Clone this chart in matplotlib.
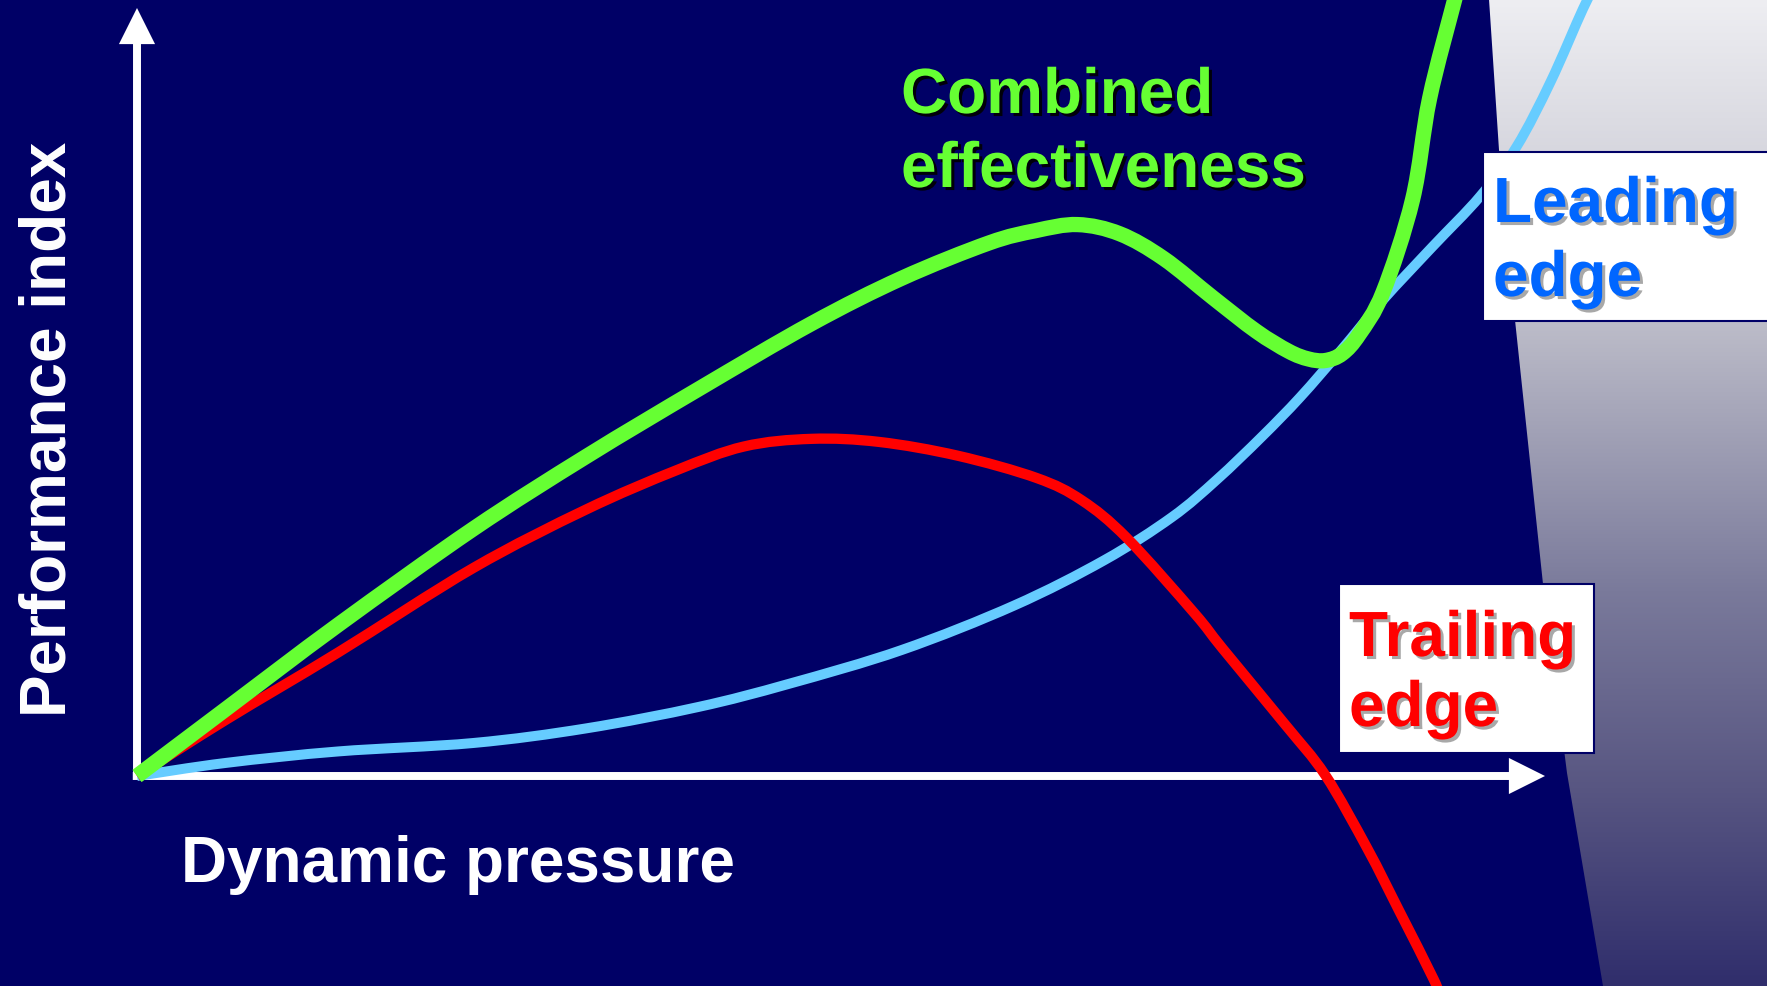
import numpy as np
import matplotlib
matplotlib.use('Agg')
import matplotlib.pyplot as plt
import matplotlib.patheffects as pe
from matplotlib.path import Path
from matplotlib.patches import Polygon, Rectangle, FancyArrowPatch, PathPatch

W, H = 1767, 987
NAVY = '#000066'

# performance curves vs dynamic pressure (axis arrows end at 100 on both axes)
combined_x = [0, 6.3, 14.3, 23.9, 31.9, 39.9, 47.9, 54.3, 60.5, 63.8, 66.8, 69.8,
              72.9, 76.4, 79.5, 81.8, 83.2, 84.4, 85.6, 86.8, 88.5, 90.6, 91.8, 93.6, 94.0]
combined_y = [0, 8.7, 19.7, 32.2, 41.6, 50.4, 58.9, 64.8, 69.4, 71.0, 71.8, 70.6,
              67.4, 62.3, 57.9, 55.3, 54.3, 54.1, 55.0, 57.5, 63.0, 75.1, 88.2, 101.2, 104.0]

trailing_x = [0, 6.3, 14.3, 23.9, 31.9, 38.3, 43.1, 47.9, 52.7, 58.3, 63.9, 67.1,
              70.3, 75.1, 77.1, 81.5, 84.4, 87.4, 89.6, 92.1, 92.6]
trailing_y = [0, 7.3, 16.1, 27.1, 34.7, 39.8, 42.9, 43.9, 43.5, 41.7, 38.8, 35.9,
              31.0, 21.2, 16.6, 6.8, 0.1, -9.5, -17.4, -26.5, -29.0]

leading_x = [0, 6.3, 14.3, 23.9, 31.9, 39.9, 46.3, 54.3, 62.3, 68.7, 73.5, 76.7,
             79.9, 82.6, 85.5, 88.5, 92.0, 95.4, 98.0, 100.4, 102.7, 103.6]
leading_y = [0, 1.7, 3.2, 4.3, 6.2, 9.0, 12.0, 16.4, 22.2, 28.1, 33.7, 38.6,
             44.2, 49.3, 55.4, 62.0, 68.9, 75.5, 82.0, 90.4, 99.9, 103.0]

# where the axes sit on the canvas (pixels)
ox, oy = 137, 777
x_tip, y_tip = 1545, 9
sx = (x_tip - ox) / 100
sy = (oy - y_tip) / 100

fig = plt.figure(figsize=(W / 100, H / 100), dpi=100)
fig.patch.set_facecolor(NAVY)
ax = fig.add_axes([0, 0, 1, 1])
xlim = (-ox / sx, (W - ox) / sx)
ylim = (-(H - oy) / sy, oy / sy)
ax.axis('off')


def fpos(x, y):
    return x / W, 1 - y / H


def smooth_path(xs, ys):
    # Catmull-Rom curve through the points, as cubic Bezier segments
    pts = np.column_stack([xs, ys]).astype(float)
    verts, codes = [pts[0]], [Path.MOVETO]
    n = len(pts)
    for i in range(n - 1):
        p0 = pts[max(i - 1, 0)]
        p1, p2 = pts[i], pts[i + 1]
        p3 = pts[min(i + 2, n - 1)]
        verts += [p1 + (p2 - p0) / 6, p2 - (p3 - p1) / 6, p2]
        codes += [Path.CURVE4] * 3
    return Path(verts, codes)


# shaded panel on the right, light at the top fading to navy
edge = [(1489, 0), (1499, 151), (1515, 321), (1543, 585), (1567, 774), (1603, H)]
panel = Polygon([fpos(*p) for p in edge + [(W + 5, H), (W + 5, 0)]],
                closed=True, transform=fig.transFigure, facecolor='none', edgecolor='none')
stops = [0, 0.32, 0.6, 0.8, 1.0]
cols = np.array([[238, 238, 242], [190, 190, 202], [122, 122, 155],
                 [88, 86, 130], [48, 46, 108]]) / 255
t = np.linspace(0, 1, 400)
grad = np.stack([np.interp(t, stops, cols[:, k]) for k in range(3)], axis=-1)[:, None, :]
im = ax.imshow(grad, extent=(xlim[0], xlim[1], ylim[0], ylim[1]), aspect='auto',
               origin='upper', zorder=0.5, interpolation='bilinear')
im.set_clip_path(panel)

# axis arrows
for end in [(100, 0), (0, 100)]:
    start = (-0.3, 0) if end[1] == 0 else (0, -0.4)
    ax.add_patch(FancyArrowPatch(start, end,
                                 arrowstyle='simple,head_length=1,head_width=1,tail_width=0.22',
                                 mutation_scale=26, color='white', lw=0,
                                 shrinkA=0, shrinkB=0, zorder=2))

for xs, ys, col, lw, z in [(leading_x, leading_y, '#66ccff', 7.2, 3),
                           (trailing_x, trailing_y, '#ff0000', 7.4, 4),
                           (combined_x, combined_y, '#66ff33', 11, 5)]:
    ax.add_patch(PathPatch(smooth_path(xs, ys), facecolor='none', edgecolor=col, lw=lw,
                           capstyle='butt', joinstyle='round', zorder=z))

ax.set_xlim(*xlim)
ax.set_ylim(*ylim)

# label boxes
for x0, y0, x1, y1 in [(1483, 153, W + 10, 322), (1339, 585, 1594, 754)]:
    fig.patches.append(Rectangle(fpos(x0, y1), (x1 - x0) / W, (y1 - y0) / H,
                                 transform=fig.transFigure, facecolor='white',
                                 edgecolor=NAVY, lw=1.5, zorder=5))

font = dict(family='Liberation Sans', weight='bold', size=46)
dark_shadow = [pe.SimplePatchShadow(offset=(2.2, -2.2), shadow_rgbFace='#000000', alpha=0.9),
               pe.Normal()]
grey_shadow = [pe.SimplePatchShadow(offset=(2.2, -2.2), shadow_rgbFace='#a8a8a8', alpha=1.0),
               pe.Normal()]

for txt, x, y in [('Combined', 901, 114), ('effectiveness', 901, 188)]:
    fig.text(*fpos(x, y), txt, color='#66ff33', va='baseline', ha='left',
             path_effects=dark_shadow, zorder=6, **font)
for txt, x, y in [('Leading', 1493, 223), ('edge', 1493, 297)]:
    fig.text(*fpos(x, y), txt, color='#0066ff', va='baseline', ha='left',
             path_effects=grey_shadow, zorder=6, **font)
for txt, x, y in [('Trailing', 1349, 657), ('edge', 1349, 727)]:
    fig.text(*fpos(x, y), txt, color='#ff0000', va='baseline', ha='left',
             path_effects=grey_shadow, zorder=6, **font)

fig.text(*fpos(181, 882), 'Dynamic pressure', color='white', va='baseline', ha='left',
         zorder=6, **font)
fig.text(*fpos(66, 717), 'Performance index', color='white', va='baseline', ha='left',
         rotation=90, rotation_mode='anchor', zorder=6, **font)

fig.savefig('out.png', dpi=100, facecolor=NAVY)
